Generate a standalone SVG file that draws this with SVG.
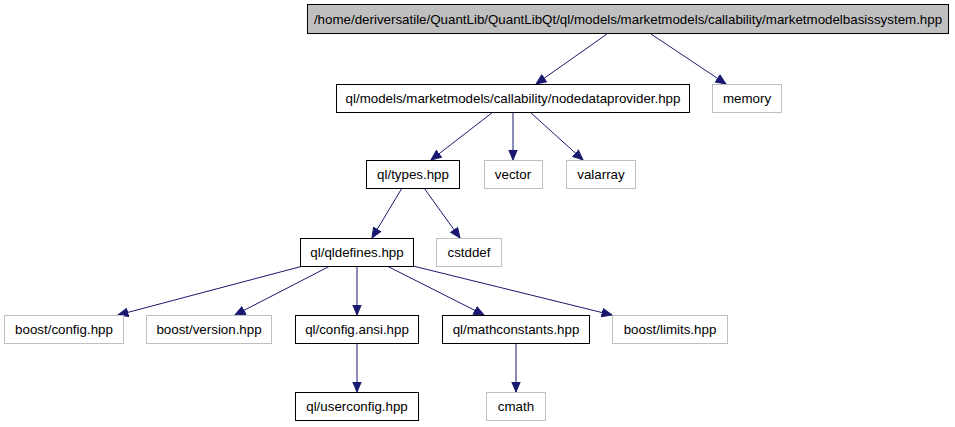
<svg xmlns="http://www.w3.org/2000/svg" width="955" height="427" viewBox="0 0 955 427">
<defs>
<style>
text{font-family:"Liberation Sans",Arial,sans-serif;font-size:13.33px;fill:#000;text-anchor:middle}
.n rect{fill:#fff;stroke:#000;stroke-width:1}
.g rect{fill:#fff;stroke:#bfbfbf;stroke-width:1}
.root rect{fill:#bfbfbf;stroke:#000;stroke-width:1}
.e path{fill:none;stroke:#191970;stroke-width:1;marker-end:url(#ah)}
</style>
<marker id="ah" markerUnits="userSpaceOnUse" markerWidth="12" markerHeight="10" refX="10.5" refY="5" orient="auto">
<path d="M0.5,0.8 L10.5,5 L0.5,9.2 z" fill="#191970" stroke="#191970" stroke-width="1"/>
</marker>
</defs>
<rect width="955" height="427" fill="#fff"/>
<g id="edges" class="e">
<path d="M607,34 L536,84"/>
<path d="M651,34 L726,84"/>
<path d="M493,112 L431,160"/>
<path d="M513,112 L513,160"/>
<path d="M530,112 L583,160"/>
<path d="M402,188 L372,238"/>
<path d="M424,188 L460,238"/>
<path d="M303,266 L118,315"/>
<path d="M330,266 L235,315"/>
<path d="M357,266 L357,315"/>
<path d="M387,266 L484,315"/>
<path d="M413,266 L612,315"/>
<path d="M357,343 L357,392"/>
<path d="M516,343 L516,392"/>
</g>
<g id="root" class="root"><rect x="307.5" y="4.5" width="641" height="29"/><text x="628" y="24">/home/deriversatile/QuantLib/QuantLibQt/ql/models/marketmodels/callability/marketmodelbasissystem.hpp</text></g>
<g id="nodedataprovider" class="n"><rect x="336.5" y="84.5" width="353" height="28"/><text x="513" y="103">ql/models/marketmodels/callability/nodedataprovider.hpp</text></g>
<g id="memory" class="g"><rect x="712.5" y="84.5" width="69" height="28"/><text x="747" y="103">memory</text></g>
<g id="types" class="n"><rect x="366.5" y="160.5" width="93" height="28"/><text x="413" y="179">ql/types.hpp</text></g>
<g id="vector" class="g"><rect x="484.5" y="160.5" width="58" height="28"/><text x="513" y="179">vector</text></g>
<g id="valarray" class="g"><rect x="566.5" y="160.5" width="69" height="28"/><text x="601" y="179">valarray</text></g>
<g id="qldefines" class="n"><rect x="300.5" y="238.5" width="113" height="28"/><text x="357" y="257">ql/qldefines.hpp</text></g>
<g id="cstddef" class="g"><rect x="436.5" y="238.5" width="65" height="28"/><text x="469" y="257">cstddef</text></g>
<g id="boostconfig" class="g"><rect x="4.5" y="315.5" width="119" height="28"/><text x="64" y="334">boost/config.hpp</text></g>
<g id="boostversion" class="g"><rect x="146.5" y="315.5" width="125" height="28"/><text x="209" y="334">boost/version.hpp</text></g>
<g id="configansi" class="n"><rect x="295.5" y="315.5" width="123" height="28"/><text x="357" y="334">ql/config.ansi.hpp</text></g>
<g id="mathconstants" class="n"><rect x="442.5" y="315.5" width="147" height="28"/><text x="516" y="334">ql/mathconstants.hpp</text></g>
<g id="boostlimits" class="g"><rect x="612.5" y="315.5" width="115" height="28"/><text x="670" y="334">boost/limits.hpp</text></g>
<g id="userconfig" class="n"><rect x="295.5" y="392.5" width="123" height="28"/><text x="357" y="411">ql/userconfig.hpp</text></g>
<g id="cmath" class="g"><rect x="486.5" y="392.5" width="59" height="28"/><text x="516" y="411">cmath</text></g>
</svg>
